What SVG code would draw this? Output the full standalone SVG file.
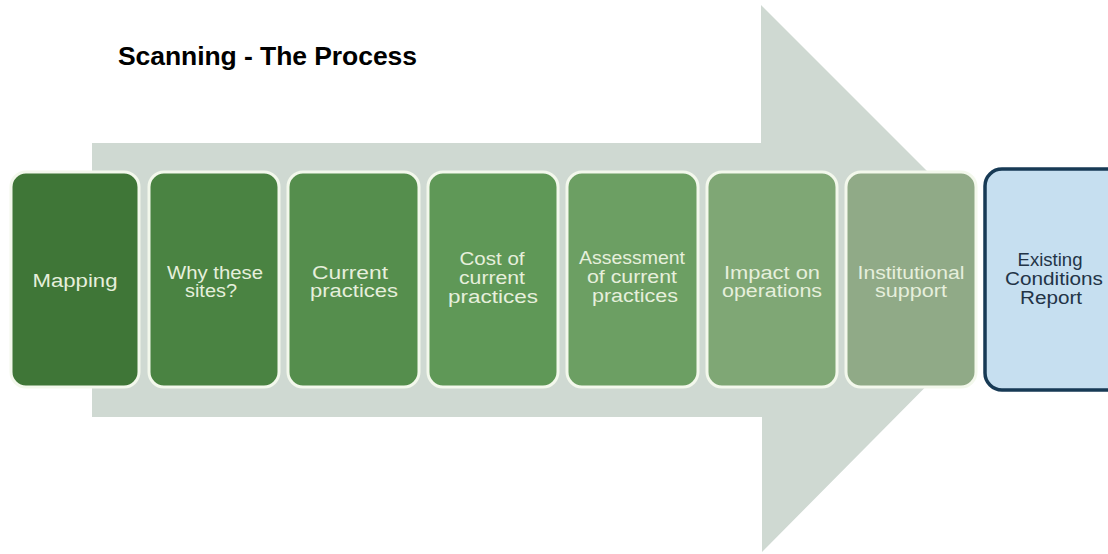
<svg xmlns="http://www.w3.org/2000/svg" width="1108" height="554" viewBox="0 0 1108 554">
<style>
.bg{fill:#ffffff}
.arrow{fill:#cfd9d2}
.step{stroke:#f3f8ec;stroke-width:3}
.lbl{font-family:"Liberation Sans",Arial,sans-serif;font-size:18px;fill:#e6efdc;text-anchor:middle}
.lbl2{font-family:"Liberation Sans",Arial,sans-serif;font-size:18px;fill:#233447;text-anchor:middle}
.title{font-family:"Liberation Sans",Arial,sans-serif;font-size:26.5px;font-weight:bold;fill:#000000}
</style>
<rect class="bg" x="0" y="0" width="1108" height="554"/>
<text class="title" x="118" y="65" textLength="299">Scanning - The Process</text>
<g id="connectors">
<polygon class="arrow" points="92,143 761,143 761,5 976,220 976,336 762,552 762,417 92,417"/>
</g>
<g id="n1">
<rect class="step" x="11" y="172" width="128" height="215" rx="15" fill="#3f7637"/>
<text class="lbl" x="75" y="287" textLength="85" lengthAdjust="spacingAndGlyphs">Mapping</text>
</g>
<g id="n2">
<rect class="step" x="149" y="172" width="130" height="215" rx="15" fill="#4a8342"/>
<text class="lbl" x="215" y="279" textLength="96" lengthAdjust="spacingAndGlyphs">Why these</text>
<text class="lbl" x="211" y="297" textLength="52" lengthAdjust="spacingAndGlyphs">sites?</text>
</g>
<g id="n3">
<rect class="step" x="288" y="172" width="131" height="215" rx="15" fill="#558e4d"/>
<text class="lbl" x="350" y="279" textLength="76" lengthAdjust="spacingAndGlyphs">Current</text>
<text class="lbl" x="354" y="297" textLength="88" lengthAdjust="spacingAndGlyphs">practices</text>
</g>
<g id="n4">
<rect class="step" x="428" y="172" width="130" height="215" rx="15" fill="#5f9857"/>
<text class="lbl" x="492" y="265" textLength="65" lengthAdjust="spacingAndGlyphs">Cost of</text>
<text class="lbl" x="492" y="284" textLength="66" lengthAdjust="spacingAndGlyphs">current</text>
<text class="lbl" x="493" y="303" textLength="90" lengthAdjust="spacingAndGlyphs">practices</text>
</g>
<g id="n5">
<rect class="step" x="567" y="172" width="131" height="215" rx="15" fill="#6c9f63"/>
<text class="lbl" x="632" y="264" textLength="106" lengthAdjust="spacingAndGlyphs">Assessment</text>
<text class="lbl" x="632" y="283" textLength="90" lengthAdjust="spacingAndGlyphs">of current</text>
<text class="lbl" x="635" y="302" textLength="86" lengthAdjust="spacingAndGlyphs">practices</text>
</g>
<g id="n6">
<rect class="step" x="707" y="172" width="130" height="215" rx="15" fill="#7fa775"/>
<text class="lbl" x="772" y="279" textLength="96" lengthAdjust="spacingAndGlyphs">Impact on</text>
<text class="lbl" x="772" y="297" textLength="100" lengthAdjust="spacingAndGlyphs">operations</text>
</g>
<g id="n7">
<rect class="step" x="846" y="172" width="130" height="215" rx="15" fill="#90aa87"/>
<text class="lbl" x="911" y="279" textLength="107" lengthAdjust="spacingAndGlyphs">Institutional</text>
<text class="lbl" x="911" y="297" textLength="72" lengthAdjust="spacingAndGlyphs">support</text>
</g>
<g id="n8">
<rect x="985" y="169" width="138" height="221" rx="17" fill="#c6dff0" stroke="#173a55" stroke-width="3.5"/>
<text class="lbl2" x="1050" y="266" textLength="65" lengthAdjust="spacingAndGlyphs">Existing</text>
<text class="lbl2" x="1054" y="285" textLength="98" lengthAdjust="spacingAndGlyphs">Conditions</text>
<text class="lbl2" x="1051" y="304" textLength="62" lengthAdjust="spacingAndGlyphs">Report</text>
</g>
</svg>
